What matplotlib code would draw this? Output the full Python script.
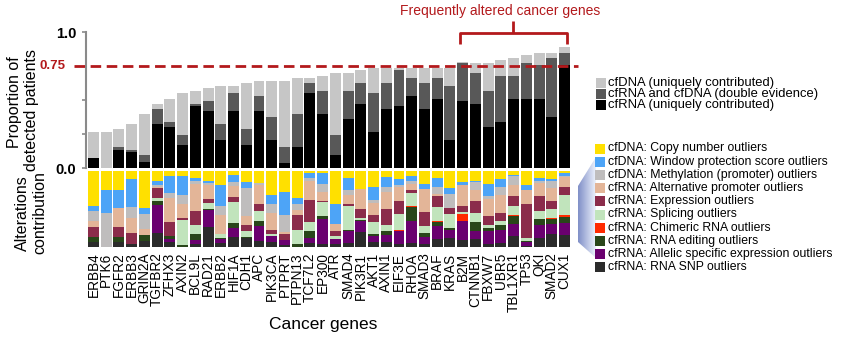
import numpy as np
import matplotlib
matplotlib.use("Agg")
import matplotlib.pyplot as plt
from matplotlib.patches import Polygon, Rectangle

plt.rcParams['font.family'] = ['Liberation Sans', 'DejaVu Sans']

genes = ["ERBB4", "PTK6", "FGFR2", "ERBB3", "GRIN2A", "TGFBR2", "ZFHX3", "AXIN2",
         "BCL9L", "RAD21", "ERBB2", "HIF1A", "CDH1", "APC", "PIK3CA", "PTPRT",
         "PTPN13", "TCF7L2", "EP300", "ATR", "SMAD4", "PIK3R1", "AKT1", "AXIN1",
         "EIF3E", "RHOA", "SMAD3", "BRAF", "KRAS", "B2M", "CTNNB1", "FBXW7",
         "UBR5", "TBL1XR1", "TP53", "QKI", "SMAD2", "CUX1"]

# Proportion of detected patients (stacked: cfRNA only, both, cfDNA only)
cfrna_unique = [0.077, 0.000, 0.133, 0.116, 0.042, 0.321, 0.304, 0.170, 0.454, 0.417,
                0.207, 0.417, 0.170, 0.417, 0.207, 0.040, 0.151, 0.548, 0.398, 0.096,
                0.358, 0.474, 0.264, 0.435, 0.454, 0.528, 0.435, 0.511, 0.207, 0.491,
                0.474, 0.304, 0.341, 0.511, 0.511, 0.511, 0.378, 0.756]
double_evidence = [0.000, 0.000, 0.018, 0.017, 0.052, 0.114, 0.037, 0.074, 0.018, 0.074,
                   0.114, 0.131, 0.114, 0.111, 0.171, 0.111, 0.247, 0.077, 0.167, 0.148,
                   0.207, 0.151, 0.284, 0.190, 0.265, 0.134, 0.190, 0.151, 0.398, 0.279,
                   0.225, 0.261, 0.338, 0.168, 0.264, 0.245, 0.434, 0.093]
cfdna_unique = [0.187, 0.264, 0.133, 0.188, 0.301, 0.037, 0.170, 0.304, 0.096, 0.094,
                0.284, 0.057, 0.341, 0.114, 0.264, 0.491, 0.264, 0.037, 0.114, 0.455,
                0.134, 0.094, 0.190, 0.113, 0.019, 0.076, 0.113, 0.076, 0.133, 0.008,
                0.076, 0.210, 0.116, 0.133, 0.057, 0.093, 0.037, 0.040]

# Contribution of each alteration type (fractions per gene)
copy_number = [.465, .248, .25, .10, .49, .13, .06, .06, .09, .13, .18, .05, .15, .16, .31, .28, .35, .02, .03,
               .43, .095, .235, .205, .085, .105, .065, .17, .095, .22, .14, .13, .175, .105, .05, .19, .095, .105, .03]
window_protection = [.065, .304, .24, .38, .08, .05, .23, .25, .04, .03, .28, .095, .08, 0, .13, .30, .09, .07, .145,
                     .27, .15, 0, .175, .13, .085, .065, .07, .12, .085, .045, .01, .16, .10, .02, .055, .035, .025, .03]
methylation = [.13, .448, 0, .14, .19, .03, .065, .12, .045, .02, .12, .055, .36, .02, .11, .22, .07, .045, .095,
               0, .065, 0, .045, .06, .02, .045, 0, .085, .18, 0, .11, .035, .115, .12, 0, .03, .095, .025]
alt_promoter = [.074, 0, .25, .19, .08, .02, .31, .19, .355, .19, .25, .145, .12, .25, .23, .03, .065, .25, .12,
                .085, .12, .27, .15, .22, .19, .075, .30, .03, 0, .28, .14, .225, .23, .145, .19, .175, .165, .13]
expression = [.13, 0, .13, .145, 0, .13, .195, .02, .18, .055, 0, .065, .08, .09, .05, .08, .195, .29, .02,
              .065, .03, .11, .095, .215, .165, .035, .19, .145, .085, .08, .165, .11, .11, .13, .44, .195, .115, .105]
splicing = [0, 0, 0, 0, 0, .03, 0, .33, .12, .07, .05, .27, .08, .14, .02, 0, .185, .12, .18,
            .04, .315, .035, .165, .08, .215, .175, .08, .18, .175, .02, .11, .045, .045, .115, .045, .095, .11, .265]
chimeric = [0, 0, 0, 0, 0, 0, 0, 0, 0, 0, 0, 0, 0, 0, 0, 0, 0, 0, 0,
            0, 0, 0, 0, 0, .015, .015, 0, .015, 0, .095, 0, 0, 0, .015, 0, 0, .015, .02]
rna_editing = [.065, 0, .06, 0, .08, .06, .03, .03, .08, .02, .015, .065, .01, .065, 0, 0, .045, .08, .035,
               .01, .02, .01, .02, .05, 0, .18, .06, .05, .035, 0, .12, .035, .065, .105, .02, .085, .065, .085]
allelic = [0, 0, 0, 0, 0, .36, .04, 0, .045, .22, .05, .12, 0, .195, .08, .06, 0, .07, .33,
           .06, .15, .14, .075, .10, .16, .29, .09, .175, .105, .25, .115, .18, .175, .15, .045, .175, .14, .15]
rna_snp = [.071, 0, .07, .045, .08, .19, .07, 0, .045, .265, .055, .135, .12, .08, .07, .03, 0, .055, .045,
           .04, .055, .20, .07, .06, .045, .055, .04, .105, .115, .09, .10, .035, .055, .15, .015, .115, .165, .16]

top_labels = ["cfDNA (uniquely contributed)",
              "cfRNA and cfDNA (double evidence)",
              "cfRNA (uniquely contributed)"]
top_colors = ["#c6c6c6", "#585858", "#000000"]

# stacked bottom-to-top
alt_series = [rna_snp, allelic, rna_editing, chimeric, splicing, expression,
              alt_promoter, methylation, window_protection, copy_number]
alt_colors = ["#2b2b2b", "#6a006f", "#29461a", "#ff2a00", "#c1e4bc", "#8b2c4b",
              "#e3b598", "#bfbdbd", "#4da4f7", "#ffe000"]
alt_labels = ["cfDNA: Copy number outliers",
              "cfDNA: Window protection score outliers",
              "cfDNA: Methylation (promoter) outliers",
              "cfRNA: Alternative promoter outliers",
              "cfRNA: Expression outliers",
              "cfRNA: Splicing outliers",
              "cfRNA: Chimeric RNA outliers",
              "cfRNA: RNA editing outliers",
              "cfRNA: Allelic specific expression outliers",
              "cfRNA: RNA SNP outliers"]
alt_legend_colors = alt_colors[::-1]

W, H = 845, 341
fig = plt.figure(figsize=(W / 100, H / 100), dpi=100)


def px_axes(x0, y0, x1, y1):
    return fig.add_axes([x0 / W, 1 - y1 / H, (x1 - x0) / W, (y1 - y0) / H])


x = np.arange(len(genes))
bw = 0.86
red = "#b3191c"

# ---- top panel ----
ax = px_axes(86, 32, 572, 168)
b1 = np.array(cfrna_unique)
b2 = np.array(double_evidence)
b3 = np.array(cfdna_unique)
ax.bar(x, b1, width=bw, color=top_colors[2], linewidth=0)
ax.bar(x, b2, width=bw, bottom=b1, color=top_colors[1], linewidth=0)
ax.bar(x, b3, width=bw, bottom=b1 + b2, color=top_colors[0], linewidth=0)
ax.set_xlim(-0.59, len(genes) - 0.41)
ax.set_ylim(0, 1.0)
for s in ["top", "right", "bottom"]:
    ax.spines[s].set_visible(False)
ax.spines["left"].set_color("#8a8a8a")
ax.spines["left"].set_linewidth(1.5)
ax.set_xticks([])
ax.set_yticks([0, 0.25, 0.5, 1.0])
ax.set_yticklabels(["0.0", "", "", "1.0"], fontsize=10.5, fontweight="bold")
ax.tick_params(axis="y", length=3, width=1.2, color="#8a8a8a", pad=4)
ax.plot([-1.55, len(genes) + 0.05], [0.75, 0.75], color=red, lw=2.0,
        ls=(0, (3.8, 2.0)), clip_on=False, zorder=5)

# ---- bottom panel ----
bx = px_axes(86, 171, 572, 247)
bottom = np.zeros(len(genes))
for vals, col in zip(alt_series, alt_colors):
    v = np.array(vals)
    bx.bar(x, v, width=bw, bottom=bottom, color=col, linewidth=0)
    bottom += v
bx.set_xlim(-0.59, len(genes) - 0.41)
bx.set_ylim(0, 1.0)
for s in bx.spines.values():
    s.set_visible(False)
bx.set_yticks([])
bx.set_xticks(x)
bx.set_xticklabels(genes, rotation=90, fontsize=9.8)
bx.tick_params(axis="x", length=0, pad=4)

# ---- text, bracket, legends ----
ov = fig.add_axes([0, 0, 1, 1], zorder=10)
ov.set_xlim(0, W)
ov.set_ylim(H, 0)
ov.axis("off")
ov.patch.set_alpha(0)

ov.text(66, 66, "0.75", color=red, fontsize=9.5, fontweight="bold",
        ha="right", va="center")
ov.text(15, 102, "Proportion of", rotation=90, fontsize=11.5,
        ha="center", va="center")
ov.text(32, 110, "detected patients", rotation=90, fontsize=11.5,
        ha="center", va="center")
ov.text(22, 213, "Alterations", rotation=90, fontsize=11.5,
        ha="center", va="center")
ov.text(40, 213, "contribution", rotation=90, fontsize=11.5,
        ha="center", va="center")
ov.text(323, 325, "Cancer genes", fontsize=12.5, ha="center", va="center")

ov.plot([460, 460, 567, 567], [44, 33, 33, 44], color=red, lw=2, solid_capstyle="butt")
ov.plot([513.5, 513.5], [33, 21], color=red, lw=2, solid_capstyle="butt")
ov.text(500, 11, "Frequently altered cancer genes", color=red, fontsize=10,
        ha="center", va="center")

# shaded connector between the bottom panel and its legend
wedge = Polygon([(596, 157), (578, 186), (578, 242), (596, 258)], closed=True,
                facecolor="none", edgecolor="none")
ov.add_patch(wedge)
grad = np.linspace(0, 1, 64)[None, :]
c0 = np.array([0.50, 0.56, 0.78])
c1 = np.array([0.93, 0.95, 0.99])
img = c0[None, None, :] * (1 - grad[..., None]) + c1[None, None, :] * grad[..., None]
im = ov.imshow(img, extent=(578, 596, 258, 157), aspect="auto", interpolation="bilinear")
im.set_clip_path(wedge)
ov.set_xlim(0, W)
ov.set_ylim(H, 0)

for i, (lab, col) in enumerate(zip(top_labels, top_colors)):
    yc = 83 + i * 11
    ov.add_patch(Rectangle((596, yc - 5), 10, 10, facecolor=col, edgecolor="none"))
    ov.text(608, yc, lab, fontsize=9.4, va="center", ha="left")

for i, (lab, col) in enumerate(zip(alt_labels, alt_legend_colors)):
    yc = 148.5 + i * 13.2
    ov.add_patch(Rectangle((595, yc - 5), 10, 10, facecolor=col, edgecolor="none"))
    ov.text(608, yc, lab, fontsize=8.8, va="center", ha="left")

fig.savefig("out.png", dpi=100)
